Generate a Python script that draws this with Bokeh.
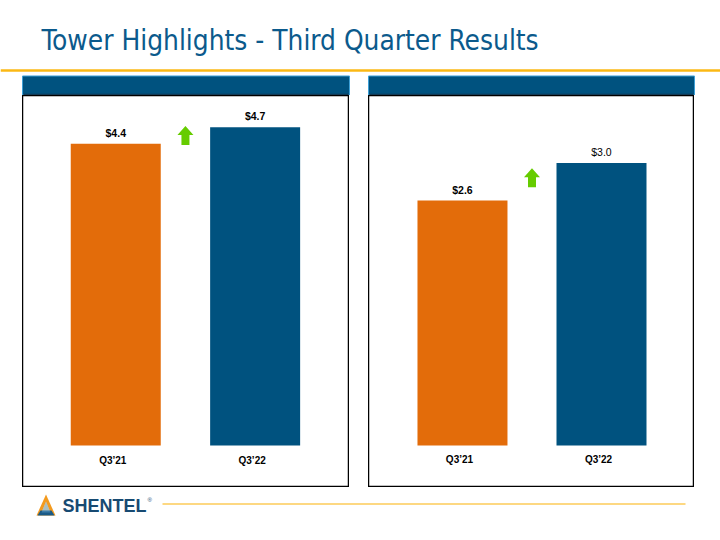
from bokeh.plotting import figure
from bokeh.layouts import column, row
from bokeh.models import Range1d, Spacer, ColumnDataSource
from bokeh.core.properties import value
from bokeh.embed import file_html
from bokeh.resources import INLINE

# ---- data ----
title_text = "Tower Highlights - Third Quarter Results"
categories = ["Q3\u201921", "Q3\u201922"]
left_values = [4.42, 4.66]
right_values = [2.6, 3.0]
left_labels = ["$4.4", "$4.7"]
right_labels = ["$2.6", "$3.0"]
left_label_weights = ["bold", "bold"]
right_label_weights = ["bold", "normal"]
brand = "SHENTEL"

ORANGE = "#e36c0a"
BLUE = "#00527f"
GREEN = "#66cc00"
TITLE_BLUE = "#0b5a8c"

W = 720


def deco_fig(h):
    f = figure(width=W, height=h, x_range=Range1d(0, W), y_range=Range1d(h, 0),
               output_backend="svg", toolbar_location=None,
               x_axis_type=None, y_axis_type=None, min_border=0)
    f.grid.visible = False
    f.outline_line_color = None
    f.background_fill_color = "white"
    f.border_fill_color = "white"
    return f


# ---- top strip ----
top = deco_fig(95)
top.text(x=[41], y=[40], text=[title_text], text_font=value("DejaVu Sans Condensed"),
         text_font_size="27.8px", text_color=TITLE_BLUE, text_baseline="middle",
         text_align="left")
top.segment(x0=[0], y0=[70], x1=[720], y1=[70], line_color="#fbb814", line_width=2.5)
for x0, x1 in [(22, 349), (368, 694)]:
    top.quad(left=[x0], right=[x1], top=[75.5], bottom=[94.5], fill_color="#00527f",
             line_color="#3d9fd6", line_width=1)
    top.segment(x0=[x0 + 1], y0=[94], x1=[x1 - 1], y1=[94], line_color="#123a55", line_width=1.5)


# ---- bar panels ----
def panel(vals, labels, weights, w, xr, yr, arrow_shift):
    p = figure(width=w, height=392, x_range=Range1d(*xr), y_range=Range1d(*yr),
               output_backend="svg", toolbar_location=None,
               x_axis_type=None, y_axis_type=None, min_border=0)
    p.grid.visible = False
    p.outline_line_color = "black"
    p.outline_line_width = 1.5
    p.background_fill_color = "white"
    p.border_fill_color = "white"
    xs = list(range(len(vals)))
    src = ColumnDataSource(dict(x=xs, top=vals, color=[ORANGE, BLUE], lab=labels,
                                cat=categories, wt=weights))
    bw = 90 / (w / (xr[1] - xr[0]))
    p.vbar(x="x", top="top", bottom=0, width=bw, fill_color="color", line_color=None, source=src)
    p.text(x="x", y="top", text="lab", source=src, text_font=value("Liberation Sans"),
           text_font_style="wt", text_font_size="10.5px", text_align="center",
           text_baseline="bottom", y_offset=-5, text_color="black")
    p.text(x="x", y=0, text="cat", source=src, text_font=value("Liberation Sans"),
           text_font_style="bold", text_font_size="10px", text_align="center",
           text_baseline="top", y_offset=9, x_offset=-3, text_color="black")
    # green up-arrow between bars
    ux = (xr[1] - xr[0]) / w
    uy = (yr[1] - yr[0]) / 392
    cx = (xs[0] + xs[1]) / 2
    cy = (vals[0] + vals[1]) / 2 + arrow_shift * uy
    hw, sw, hh, tot = 8, 4, 9, 19
    ax = [cx, cx + hw * ux, cx + sw * ux, cx + sw * ux, cx - sw * ux, cx - sw * ux, cx - hw * ux]
    top_y = cy + tot / 2 * uy
    base_y = top_y - hh * uy
    bot_y = cy - tot / 2 * uy
    ay = [top_y, base_y, base_y, bot_y, bot_y, base_y, base_y]
    p.patch(ax, ay, fill_color=GREEN, line_color=None)
    return p


p1 = panel(left_values, left_labels, left_label_weights, 327, (-0.669, 1.677), (-0.615, 5.125), 0)
p2 = panel(right_values, right_labels, right_label_weights, 326, (-0.676, 1.669), (-0.446, 3.716), 4)
mid = row(Spacer(width=22, height=392), p1, Spacer(width=19, height=392), p2,
          Spacer(width=26, height=392))

# ---- footer ----
bot = deco_fig(53)
# logo triangle (footer y origin = 487)
bot.patch([36, 45.5, 55], [28, 7, 28], fill_color="#f39a1e", line_color=None)
bot.patch([41, 45.5, 50], [25, 14, 25], fill_color="#fde3b8", line_color=None)
bot.patch([37, 54, 51, 40], [28, 28, 23, 23], fill_color="#1a5a86", line_color=None)
bot.patch([45.5, 50, 41], [14, 25, 25], fill_color="#5b9cc7", line_color=None, fill_alpha=0.5)
bot.text(x=[62], y=[18.5], text=[brand], text_font=value("Liberation Sans"),
         text_font_style="bold", text_font_size="18px", text_color="#174a72",
         text_baseline="middle", text_align="left")
bot.text(x=[147], y=[12], text=["\u00ae"], text_font=value("Liberation Sans"),
         text_font_size="6px", text_color="#174a72", text_baseline="middle")
bot.segment(x0=[162], y0=[16.5], x1=[685], y1=[16.5], line_color="#fdd882", line_width=2)

layout = column(top, mid, bot)
open("out.html", "w").write(file_html(layout, INLINE))
